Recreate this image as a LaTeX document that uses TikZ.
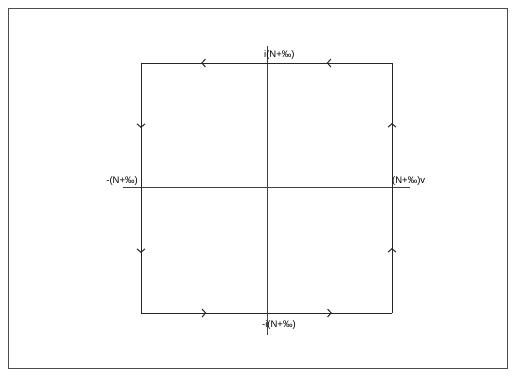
\documentclass[tikz,border=0pt]{standalone}
\usepackage{fontspec}
\setmainfont{Liberation Sans}
\usetikzlibrary{arrows.meta,decorations.markings}
\begin{document}
\begin{tikzpicture}[x=1pt,y=-1pt,
  edge/.style={line width=0.5pt,draw=black!85},
  axis/.style={line width=0.5pt,draw=black!75},
  lbl/.style={font=\fontsize{9.5}{10}\selectfont,inner sep=0pt},
  midarrows/.style={postaction={decorate},decoration={markings,
    mark=at position 0.26 with {\arrow{Straight Barb[length=3.5pt,width=8pt,line width=1pt]}},
    mark=at position 0.76 with {\arrow{Straight Barb[length=3.5pt,width=8pt,line width=1pt]}}}}]
\draw[line width=0.5pt,draw=black!70] (8,8) rectangle (507,368);
\useasboundingbox (0,0) rectangle (515,376);
\coordinate (tl) at (141,63);
\coordinate (tr) at (392,63);
\coordinate (bl) at (141,313);
\coordinate (br) at (392,313);
\coordinate (vt) at (267,46);
\coordinate (vb) at (267,335);
\coordinate (hl) at (123,187);
\coordinate (hr) at (410,187);
\draw[axis] (vt) -- (vb);
\draw[axis] (hl) -- (hr);
\draw[edge,midarrows] (tr) -- (tl);
\draw[edge,midarrows] (tl) -- (bl);
\draw[edge,midarrows] (bl) -- (br);
\draw[edge,midarrows] (br) -- (tr);
\node[lbl,anchor=west] (top) at (264,55) {i(N+‰)};
\node[lbl,anchor=west] (bot) at (262,325) {-i(N+‰)};
\node[lbl,anchor=east] (left) at (138,181) {-(N+‰)};
\node[lbl,anchor=west] (right) at (392,181) {(N+‰)v};
\end{tikzpicture}
\end{document}
